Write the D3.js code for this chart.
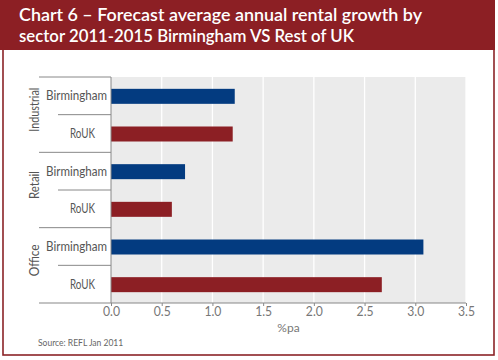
<!DOCTYPE html>
<html><head><meta charset="utf-8">
<script src="https://cdn.jsdelivr.net/npm/d3@7"></script>
<style>html,body{margin:0;padding:0;background:#fff;}svg{display:block;}</style>
</head><body>
<script>
const titleLines = ["Chart 6 \u2013 Forecast average annual rental growth by", "sector 2011-2015 Birmingham VS Rest of UK"];
const groups = ["Industrial", "Retail", "Office"];
const categories = ["Birmingham", "RoUK"];
const values = [1.22, 1.20, 0.73, 0.60, 3.08, 2.67];
const ticks = [0, 0.5, 1.0, 1.5, 2.0, 2.5, 3.0, 3.5];
const axisTitle = "%pa";
const source = "Source: REFL Jan 2011";

const W = 498, H = 360;
const font = "Lato, 'Open Sans', sans-serif";
const svg = d3.select("body").append("svg").attr("width", W).attr("height", H);

// frame
svg.append("rect").attr("x", 3).attr("y", 40).attr("width", 491).attr("height", 315)
  .attr("fill", "#fff").attr("stroke", "#8b2327").attr("stroke-width", 1.6);
svg.append("rect").attr("x", 0).attr("y", 0).attr("width", 495).attr("height", 50).attr("fill", "#8c1f24");

titleLines.forEach((t, i) => {
  svg.append("text").attr("x", 19).attr("y", 21 + i * 21).text(t)
    .attr("fill", "#fff").attr("font-family", font).attr("font-size", 17).attr("font-weight", 600)
    .attr("textLength", i === 0 ? 403 : 335).attr("lengthAdjust", "spacingAndGlyphs");
});

const x0 = 111, x1 = 466, yTop = 77, yBot = 303;
const x = d3.scaleLinear().domain([0, 3.5]).range([x0, x1]);
const rows = d3.range(values.length);
const y = d3.scaleBand().domain(rows).range([yTop, yBot]).paddingInner(0).paddingOuter(0);

svg.append("rect").attr("x", x0).attr("y", yTop).attr("width", x1 - x0).attr("height", yBot - yTop).attr("fill", "#ebebeb");
svg.append("g").selectAll("line").data(ticks.slice(1)).join("line")
  .attr("x1", d => x(d)).attr("x2", d => x(d)).attr("y1", yTop).attr("y2", yBot)
  .attr("stroke", "#fff").attr("stroke-width", 1.3);

const barH = 15;
svg.append("g").selectAll("rect").data(values).join("rect")
  .attr("x", x(0)).attr("y", (d, i) => y(i) + y.bandwidth() / 2 - barH / 2 + 0.5)
  .attr("width", d => x(d) - x(0)).attr("height", barH)
  .attr("fill", (d, i) => i % 2 === 0 ? "#033b80" : "#8c1f24");

// axes
const xAxis = d3.axisBottom(x).tickValues(ticks).tickFormat(d3.format(".1f")).tickSize(3).tickSizeOuter(0);
const gx = svg.append("g").attr("transform", `translate(0,${yBot})`).call(xAxis);
gx.select(".domain").remove();
gx.selectAll(".tick line").attr("stroke", "#888");
gx.selectAll("text").attr("font-family", font).attr("font-size", 13).attr("fill", "#777")
  .attr("dy", "0.55em").attr("y", 6).attr("textLength", 17).attr("lengthAdjust", "spacingAndGlyphs");
svg.append("line").attr("x1", 39).attr("x2", x1).attr("y1", yBot).attr("y2", yBot).attr("stroke", "#888").attr("stroke-width", 1.2);
svg.append("line").attr("x1", x0).attr("x2", x0).attr("y1", yTop).attr("y2", yBot).attr("stroke", "#888").attr("stroke-width", 1);

// category separators
rows.forEach(i => {
  const yy = y(i);
  svg.append("line").attr("x1", i % 2 === 0 ? 39 : 58).attr("x2", x0).attr("y1", yy).attr("y2", yy)
    .attr("stroke", "#888").attr("stroke-width", 1);
});

// category labels
const labelLen = {"Birmingham": 61, "RoUK": 25};
const labelX = {"Birmingham": 76.5, "RoUK": 82.5};
rows.forEach(i => {
  const c = categories[i % 2];
  svg.append("text").text(c)
    .attr("x", labelX[c])
    .attr("y", y(i) + y.bandwidth() / 2).attr("dy", "0.35em")
    .attr("font-family", font).attr("font-size", 12.5).attr("fill", "#555").attr("text-anchor", "middle")
    .attr("textLength", labelLen[c]).attr("lengthAdjust", "spacingAndGlyphs");
});
const groupLen = {"Industrial": 44, "Retail": 28, "Office": 32};
groups.forEach((g, gi) => {
  const cy = (y(gi * 2) + y(gi * 2 + 1) + y.bandwidth()) / 2 - 5;
  svg.append("text").text(g).attr("transform", `translate(39,${cy}) rotate(-90)`)
    .attr("text-anchor", "middle").attr("font-family", font).attr("font-size", 12.5).attr("fill", "#555")
    .attr("textLength", groupLen[g]).attr("lengthAdjust", "spacingAndGlyphs");
});

svg.append("text").text(axisTitle).attr("x", (x0 + x1) / 2).attr("y", 332).attr("text-anchor", "middle")
  .attr("font-family", font).attr("font-size", 12).attr("fill", "#777");
svg.append("text").text(source).attr("x", 38).attr("y", 346)
  .attr("font-family", font).attr("font-size", 8.5).attr("fill", "#666");
</script>
</body></html>
